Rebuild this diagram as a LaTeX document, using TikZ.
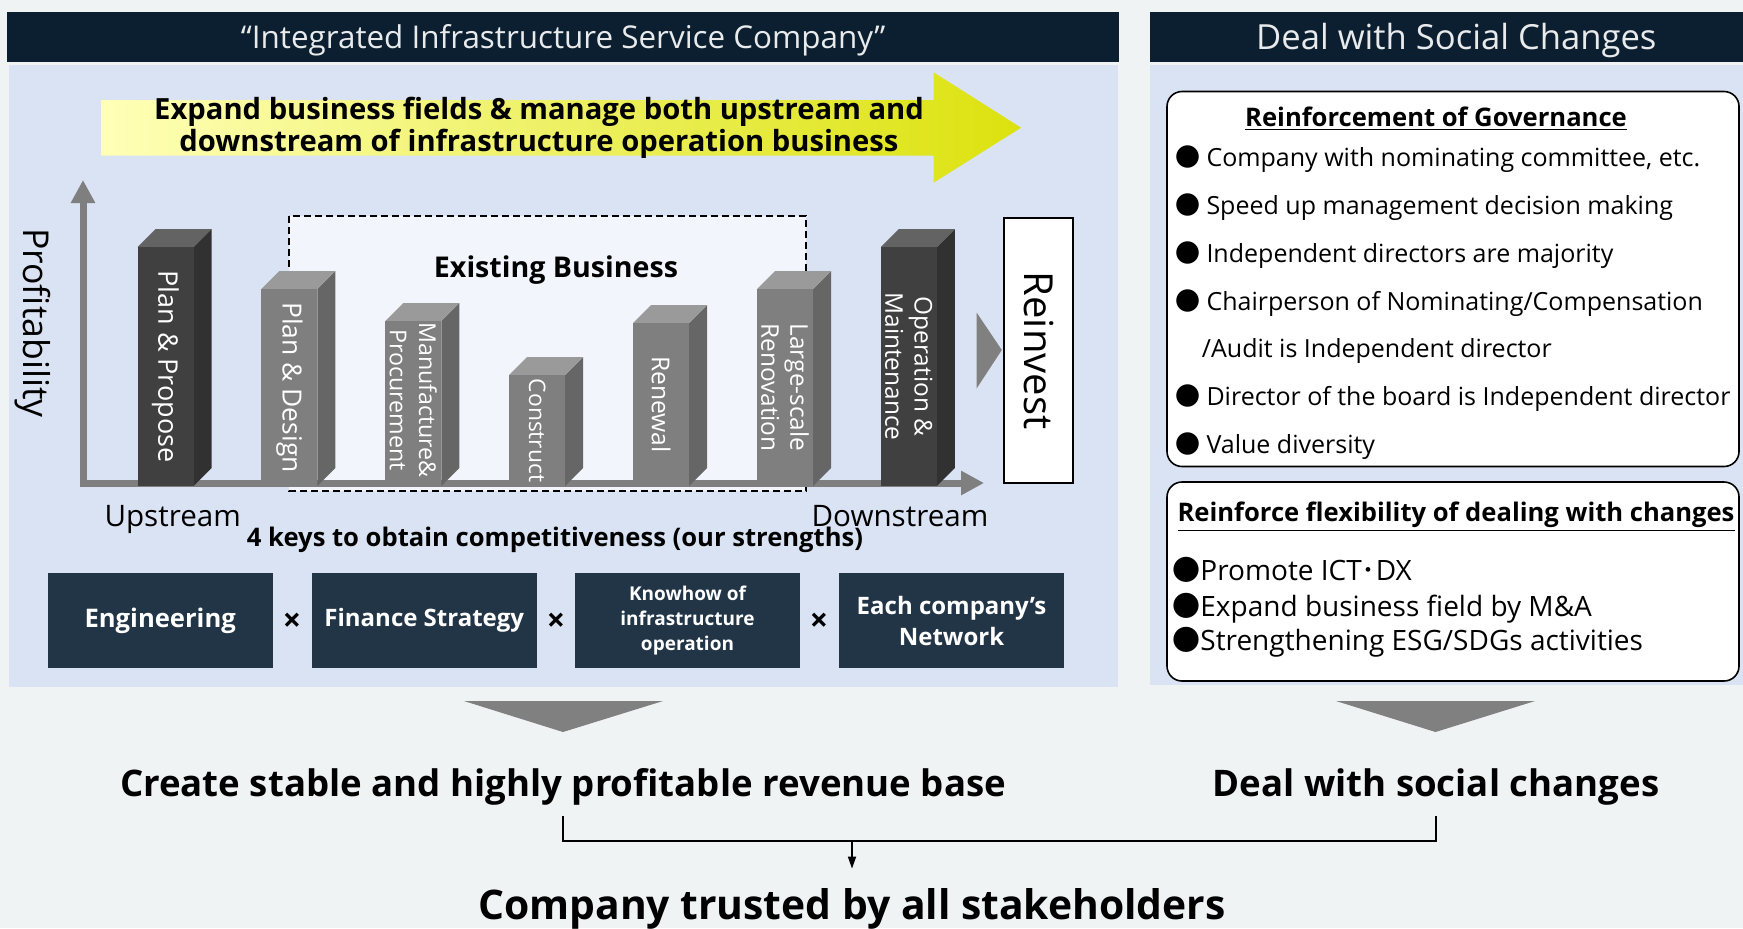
\documentclass[tikz,border=0pt]{standalone}
\usepackage{fontspec}
\setmainfont{Open Sans}
\newfontfamily\cjk{Noto Sans CJK JP}
\usetikzlibrary{arrows.meta,positioning}

\definecolor{pagegray}{HTML}{EFF3F4}
\definecolor{panelblue}{HTML}{DAE3F3}
\definecolor{headnavy}{HTML}{0B1F30}
\definecolor{headtext}{HTML}{E8EAEC}
\definecolor{keynavy}{HTML}{223546}
\definecolor{existfill}{HTML}{F2F6FC}
\definecolor{axisgray}{HTML}{7F7F7F}
\definecolor{arrowgray}{HTML}{808080}
\definecolor{arrowpale}{HTML}{FFFFB8}
\definecolor{arrowlime}{HTML}{DCE20E}
\definecolor{frontdark}{HTML}{404040}
\definecolor{sidedark}{HTML}{313131}
\definecolor{topdark}{HTML}{636363}
\definecolor{frontmid}{HTML}{7F7F7F}
\definecolor{sidemid}{HTML}{666666}
\definecolor{topmid}{HTML}{9A9A9A}

% one 3d pillar: left x, top y, front / side / top colour
\newcommand{\pillar}[5]{%
  \fill[#4] (#1+56,#2) -- (#1+74,#2-18) -- (#1+74,468) -- (#1+56,486) -- cycle;
  \fill[#5] (#1,#2) -- (#1+18,#2-18) -- (#1+74,#2-18) -- (#1+56,#2) -- cycle;
  \fill[#3] (#1,#2) rectangle (#1+56,486);
}
\newcommand{\blt}{{\cjk ●}}

\tikzset{
  header/.style={fill=headnavy, text=headtext, minimum height=25pt, inner sep=0pt,
    text height=11pt, text depth=0pt, font=\fontsize{15.7}{18}\selectfont},
  pillarlabel/.style={text=white, rotate=-90, align=center, inner sep=0pt,
    font=\fontsize{12.3}{14}\selectfont},
  pillarlabel2/.style={pillarlabel, font=\fontsize{12.2}{14.6}\selectfont},
  keybox/.style={fill=keynavy, text=white, minimum width=112.5pt, minimum height=47.2pt,
    inner sep=0pt, align=center, font=\bfseries\fontsize{12}{15.5}\selectfont},
  crosssign/.style={inner sep=0pt, font=\bfseries\fontsize{16}{18}\selectfont},
  outcome/.style={font=\bfseries\fontsize{18.3}{21}\selectfont, text height=14pt,
    text depth=4pt, inner ysep=6pt},
  bulletline/.style={anchor=west, inner sep=0pt, text height=8pt, text depth=0pt,
    font=\fontsize{12.5}{15}\selectfont},
  flexline/.style={bulletline, text height=9pt, font=\fontsize{14}{16}\selectfont},
  boxtitle/.style={inner sep=0pt, font=\bfseries\fontsize{12.8}{15}\selectfont},
  roundbox/.style={draw=black, fill=white, line width=0.8pt, rounded corners=7.5pt},
  axisline/.style={draw=axisgray, line width=3.5pt},
  link/.style={line width=0.8pt},
}

\begin{document}
\begin{tikzpicture}[x=0.5pt,y=-0.5pt]
  \useasboundingbox (0,0) rectangle (1743,928);
  \fill[pagegray] (0,0) rectangle (1743,928);

  % ---- business model panel ----
  \fill[panelblue] (9,65) rectangle (1118,687);
  \node[header, minimum width=555.9pt] (lefthead) at (563.2,37)
    {“Integrated Infrastructure Service Company”};

  \shade[left color=arrowpale, right color=arrowlime]
    (101,100) -- (933.6,100) -- (933.6,72.3) -- (1021,127.7)
    -- (933.6,182.7) -- (933.6,155.7) -- (101,155.7) -- cycle;
  \node[align=center, font=\bfseries\fontsize{14.6}{14.4}\selectfont] (expand) at (539,128)
    {Expand business fields \& manage both upstream and\\downstream of infrastructure operation business};

  % existing business
  \draw[line width=1.2pt, dash pattern=on 3.5pt off 2pt, fill=existfill] (289,216) rectangle (806,491);
  \node[font=\bfseries\fontsize{14.3}{16}\selectfont] (existing) at (556,270) {Existing Business};

  % axes
  \coordinate (origin) at (83,483);
  \coordinate (ytip) at (83,180);
  \coordinate (xtip) at (984,483);
  \draw[axisline, {Triangle[width=11.5pt,length=11.5pt]}-{Triangle[width=11.5pt,length=11.5pt]}]
    (ytip) -- (origin) -- (xtip);
  \node[rotate=-90, font=\fontsize{17.8}{20}\selectfont] (profit) at (33,323) {Profitability};

  % value chain
  \pillar{137.5}{247}{frontdark}{sidedark}{topdark}
  \pillar{261.4}{289}{frontmid}{sidemid}{topmid}
  \pillar{385.3}{321}{frontmid}{sidemid}{topmid}
  \pillar{509.2}{375}{frontmid}{sidemid}{topmid}
  \pillar{633.1}{323}{frontmid}{sidemid}{topmid}
  \pillar{757}{289}{frontmid}{sidemid}{topmid}
  \pillar{880.9}{247}{frontdark}{sidedark}{topdark}

  \node[pillarlabel, font=\fontsize{13.5}{16}\selectfont] (propose) at (165.5,366.5) {Plan \& Propose};
  \node[pillarlabel, font=\fontsize{13.2}{16}\selectfont] (design) at (289.4,387.5) {Plan \& Design};
  \node[pillarlabel2, font=\fontsize{11.6}{14.6}\selectfont] (procure) at (413.3,400) {Manufacture\&\\Procurement};
  \node[pillarlabel, font=\fontsize{11.4}{14}\selectfont] (construct) at (537.2,430.5) {Construct};
  \node[pillarlabel] (renewal) at (661.1,404.5) {Renewal};
  \node[pillarlabel2] (renovation) at (785,387.5) {Large-scale\\Renovation};
  \node[pillarlabel2] (operation) at (908.9,366.5) {Operation \&\\Maintenance};

  \fill[arrowgray] (976.7,312.7) -- (1001.8,350) -- (976.7,388.3) -- cycle;
  \node[draw=black, fill=white, line width=1pt, rotate=-90, minimum width=132.8pt,
    minimum height=34.5pt, inner sep=0pt, font=\fontsize{20}{22}\selectfont]
    (reinvest) at (1038.5,350.5) {Reinvest};

  \node[font=\fontsize{14.8}{16}\selectfont] (upstream) at (172.7,519) {Upstream};
  \node[font=\fontsize{14.8}{16}\selectfont] (downstream) at (900,516) {Downstream};
  \node[font=\bfseries\fontsize{12.8}{14}\selectfont] (keys) at (555,540)
    {4 keys to obtain competitiveness (our strengths)};

  % four keys
  \node[keybox, font=\bfseries\fontsize{12.8}{15.5}\selectfont] (engineering) at (160.2,620.5) {Engineering};
  \node[keybox] (finance) at (424.3,620.5) {Finance Strategy};
  \node[keybox, font=\bfseries\fontsize{9.5}{12.5}\selectfont] (knowhow) at (687.5,620.5)
    {Knowhow of\\infrastructure\\operation};
  \node[keybox] (network) at (951.5,620.5) {Each company’s\\Network};
  \node[crosssign] (cross1) at (292,622) {×};
  \node[crosssign] (cross2) at (556,622) {×};
  \node[crosssign] (cross3) at (819,622) {×};

  % ---- social changes panel ----
  \fill[panelblue] (1150,65) rectangle (1745,685);
  \node[header, minimum width=306.7pt, text height=12.4pt, font=\fontsize{17.3}{20}\selectfont]
    (righthead) at (1456.3,37) {Deal with Social Changes};

  \draw[roundbox] (1167,91.5) rectangle (1739,466.5);
  \node[boxtitle] (governance) at (1436,119) {\underline{Reinforcement of Governance}};
  \node[bulletline] (gov1) at (1174.6,158) {\blt\ Company with nominating committee, etc.};
  \node[bulletline] (gov2) at (1174.6,206.4) {\blt\ Speed up management decision making};
  \node[bulletline] (gov3) at (1174.6,254.6) {\blt\ Independent directors are majority};
  \node[bulletline] (gov4) at (1174.6,302.3) {\blt\ Chairperson of Nominating/Compensation};
  \node[bulletline] (gov4b) at (1201.5,349.2) {/Audit is Independent director};
  \node[bulletline] (gov5) at (1174.6,397.4) {\blt\ Director of the board is Independent director};
  \node[bulletline] (gov6) at (1174.6,445.2) {\blt\ Value diversity};

  \draw[roundbox] (1167,482) rectangle (1739,681);
  \node[boxtitle] (flexibility) at (1456,517) {\underline{Reinforce flexibility of dealing with changes}};
  \node[flexline] (flex1) at (1172,571.4) {\blt Promote ICT{\cjk ･}DX};
  \node[flexline] (flex2) at (1172,607) {\blt Expand business field by M\&A};
  \node[flexline] (flex3) at (1172,641.5) {\blt Strengthening ESG/SDGs activities};

  % ---- results ----
  \fill[arrowgray] (464,701) -- (663,701) -- (563,732) -- cycle;
  \fill[arrowgray] (1336,701) -- (1535,701) -- (1435.5,732) -- cycle;

  \node[outcome] (create) at (563,786) {Create stable and highly profitable revenue base};
  \node[outcome] (deal) at (1436,786) {Deal with social changes};
  \node[anchor=base, inner sep=0pt, text height=15pt, text depth=4pt,
    font=\bfseries\fontsize{20.4}{24}\selectfont] (trusted) at (852,919)
    {Company trusted by all stakeholders};

  \coordinate (join) at (852,841);
  \draw[link] (create.south) |- (join) -| (deal.south);
  \draw[link, -{Triangle[width=4pt,length=6pt]}, shorten >=10pt] (join) -- (trusted.north);
\end{tikzpicture}
\end{document}
